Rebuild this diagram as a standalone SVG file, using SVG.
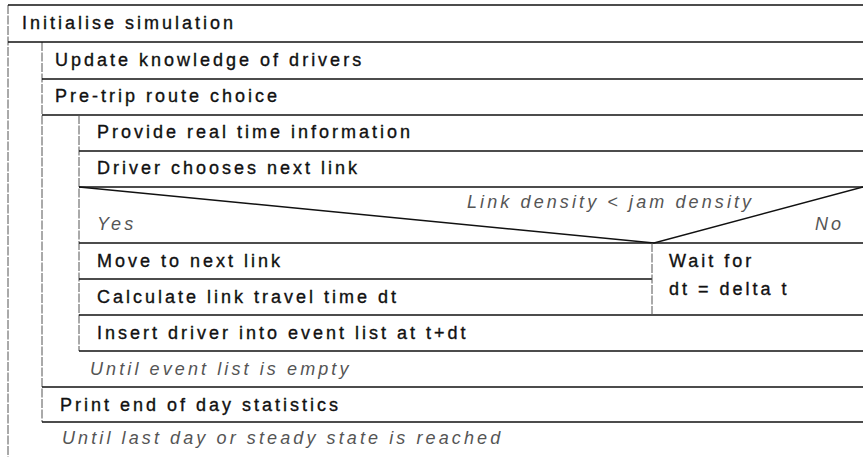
<svg xmlns="http://www.w3.org/2000/svg" width="863" height="457" viewBox="0 0 863 457">
  <style>
    .bg { fill: #ffffff; }
    .h { stroke: #111; stroke-width: 1.6; fill: none; }
    .v { stroke: #555; stroke-width: 1; fill: none; stroke-dasharray: 9 1.5; }
    .d { stroke: #111; stroke-width: 1.4; fill: none; }
    .t { font-family: "Liberation Sans", Arial, sans-serif; font-size: 18px; letter-spacing: 3px; fill: #111; stroke: #111; stroke-width: 0.35; }
    .c { font-family: "Liberation Sans", Arial, sans-serif; font-size: 18px; letter-spacing: 3.1px; font-style: italic; fill: #555; }
  </style>
  <rect class="bg" x="0" y="0" width="863" height="457"/>

  <!-- outer repeat-until loop: left bar and body frame -->
  <g id="outer-loop">
    <line class="v" x1="8" y1="5" x2="8" y2="457"/>
    <line class="v" x1="42" y1="42" x2="42" y2="422"/>
    <line class="h" x1="42" y1="422" x2="863" y2="422"/>
  </g>

  <g id="initialise">
    <line class="h" x1="8" y1="5" x2="863" y2="5"/>
    <line class="h" x1="8" y1="42" x2="863" y2="42"/>
    <text class="t" x="22" y="29">Initialise simulation</text>
  </g>

  <g id="update-knowledge">
    <line class="h" x1="42" y1="79" x2="863" y2="79"/>
    <text class="t" x="55" y="66">Update knowledge of drivers</text>
  </g>

  <g id="pre-trip">
    <line class="h" x1="42" y1="115" x2="863" y2="115"/>
    <text class="t" x="55" y="102">Pre-trip route choice</text>
  </g>

  <!-- inner repeat-until loop over the event list -->
  <g id="event-loop">
    <line class="v" x1="79" y1="115" x2="79" y2="351"/>
    <line class="h" x1="79" y1="351" x2="863" y2="351"/>
  </g>

  <g id="provide-info">
    <line class="h" x1="79" y1="151" x2="863" y2="151"/>
    <text class="t" x="97" y="138">Provide real time information</text>
  </g>

  <g id="choose-link">
    <line class="h" x1="79" y1="187" x2="863" y2="187"/>
    <text class="t" x="97" y="174">Driver chooses next link</text>
  </g>

  <!-- decision: link density against jam density -->
  <g id="density-test">
    <polyline class="d" points="79,187 654,243 863,187"/>
    <line class="h" x1="79" y1="243" x2="863" y2="243"/>
    <text class="c" x="467" y="208">Link density &lt; jam density</text>
    <text class="c" x="97" y="230">Yes</text>
    <text class="c" x="815" y="230">No</text>
  </g>

  <g id="move-link">
    <line class="h" x1="79" y1="279" x2="652" y2="279"/>
    <text class="t" x="97" y="267">Move to next link</text>
  </g>

  <g id="travel-time">
    <line class="h" x1="79" y1="315" x2="863" y2="315"/>
    <text class="t" x="97" y="303">Calculate link travel time dt</text>
  </g>

  <g id="wait">
    <line class="v" x1="652" y1="243" x2="652" y2="315"/>
    <text class="t" x="669" y="267">Wait for</text>
    <text class="t" x="669" y="295">dt = delta t</text>
  </g>

  <g id="insert-event">
    <text class="t" x="97" y="339">Insert driver into event list at t+dt</text>
  </g>

  <g id="until-empty">
    <line class="h" x1="42" y1="387" x2="863" y2="387"/>
    <text class="c" x="90" y="375">Until event list is empty</text>
  </g>

  <g id="print-stats">
    <text class="t" x="60" y="411">Print end of day statistics</text>
  </g>

  <g id="until-done">
    <text class="c" x="62" y="444">Until last day or steady state is reached</text>
  </g>
</svg>
